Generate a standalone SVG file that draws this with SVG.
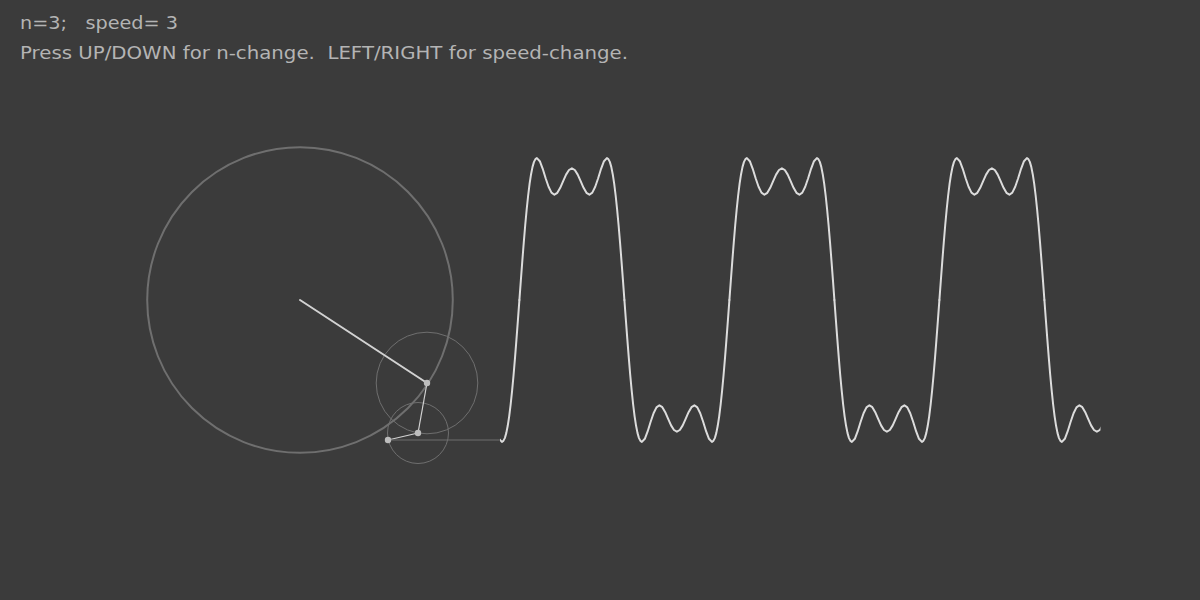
<svg xmlns="http://www.w3.org/2000/svg" xmlns:xlink="http://www.w3.org/1999/xlink" width="1200" height="600" viewBox="0 0 1200 600">
<style>
.txt{font-family:"Lucida Grande","DejaVu Sans","Liberation Sans",sans-serif;font-size:18px;fill:#b4b4b4}
.circ{fill:none;stroke:#6f6f6f}
.arm{stroke:#d2d2d2;fill:none;stroke-linecap:round}
.dot{fill:#bdbdbd}
.wave{fill:none;stroke:#dcdcdc;stroke-width:2;stroke-linejoin:round;stroke-linecap:round}
</style>
<defs>
<path id="h" d="M0,0 L1.46,-19.8 2.92,-39.2 4.38,-57.7 5.83,-75 7.29,-90.7 8.75,-104.5 10.21,-116.3 11.67,-125.8 13.13,-133.1 14.58,-138.1 16.04,-140.9 17.5,-141.9 20.42,-138.8 23.33,-131.2 26.25,-121.8 29.17,-113.2 32.08,-107.4 35,-105.3 37.92,-107.2 40.83,-112.2 43.75,-118.9 46.67,-125.4 49.58,-130 52.5,-131.7 55.42,-130 58.33,-125.4 61.25,-118.9 64.17,-112.2 67.08,-107.2 70,-105.3 72.92,-107.4 75.83,-113.2 78.75,-121.8 81.67,-131.2 84.58,-138.8 87.5,-141.9 88.96,-140.9 90.42,-138.1 91.88,-133.1 93.33,-125.8 94.79,-116.3 96.25,-104.5 97.71,-90.7 99.17,-75 100.63,-57.7 102.08,-39.2 103.54,-19.8 105,0"/>
<clipPath id="wc"><rect x="500" y="100" width="600.5" height="400"/></clipPath>
</defs>
<rect width="1200" height="600" fill="#3b3b3b"/>
<g id="labels">
<text class="txt" x="20" y="29" xml:space="preserve" textLength="158" lengthAdjust="spacingAndGlyphs">n=3;   speed= 3</text>
<text class="txt" x="20" y="59" xml:space="preserve" textLength="608" lengthAdjust="spacingAndGlyphs">Press UP/DOWN for n-change.  LEFT/RIGHT for speed-change.</text>
</g>
<g id="circle1"><circle class="circ" cx="300" cy="300" r="152.8" stroke-width="2"/></g>
<g id="circle2"><circle class="circ" cx="427" cy="383" r="50.8" stroke-width="1"/></g>
<g id="circle3"><circle class="circ" cx="418" cy="433" r="30.5" stroke-width="1"/></g>
<g id="connectors">
<line class="arm" x1="300" y1="300" x2="427" y2="383" stroke-width="2"/>
<line class="arm" x1="427" y1="383" x2="418" y2="433" stroke-width="1.2"/>
<line class="arm" x1="418" y1="433" x2="388" y2="440" stroke-width="1.2"/>
<line x1="388" y1="440" x2="500" y2="440" stroke="#6f6f6f" stroke-width="1"/>
</g>
<g id="dots">
<circle class="dot" cx="427" cy="383" r="3.2"/>
<circle class="dot" cx="418" cy="433" r="3.2"/>
<circle class="dot" cx="388" cy="440" r="3.2"/>
</g>
<g id="wave" class="wave" clip-path="url(#wc)">
<use xlink:href="#h" transform="translate(414.4,300) scale(1,-1)"/>
<use xlink:href="#h" transform="translate(519.4,300)"/>
<use xlink:href="#h" transform="translate(624.4,300) scale(1,-1)"/>
<use xlink:href="#h" transform="translate(729.4,300)"/>
<use xlink:href="#h" transform="translate(834.4,300) scale(1,-1)"/>
<use xlink:href="#h" transform="translate(939.4,300)"/>
<use xlink:href="#h" transform="translate(1044.4,300) scale(1,-1)"/>
</g>
</svg>
